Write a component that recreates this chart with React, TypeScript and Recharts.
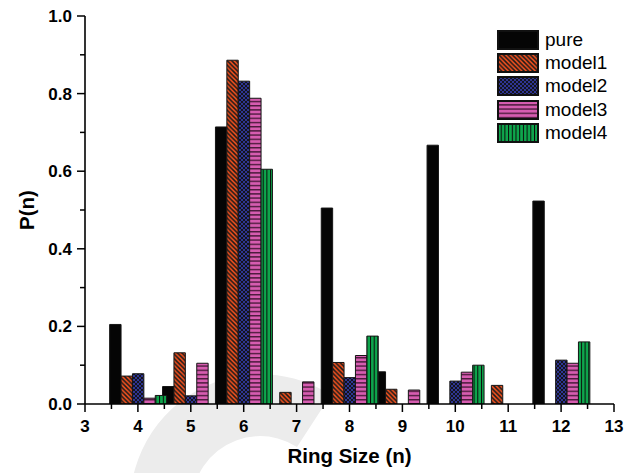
import React from 'react';
import { BarChart, Bar, XAxis, YAxis, Legend, Label } from 'recharts';

// ---------- data ----------
const ringSizes = [4, 5, 6, 7, 8, 9, 10, 11, 12];
const pureValues = [0.205, 0.045, 0.714, 0, 0.505, 0.083, 0.667, 0, 0.523];
const model1Values = [0.072, 0.132, 0.886, 0.03, 0.107, 0.038, 0, 0.048, 0];
const model2Values = [0.078, 0.021, 0.832, 0, 0.068, 0, 0.059, 0, 0.113];
const model3Values = [0.015, 0.105, 0.788, 0.057, 0.125, 0.036, 0.082, 0, 0.105];
const model4Values = [0.022, 0, 0.605, 0, 0.175, 0, 0.1, 0, 0.16];

const seriesNames = ['pure', 'model1', 'model2', 'model3', 'model4'];
const xTickValues = [3, 3.5, 4, 4.5, 5, 5.5, 6, 6.5, 7, 7.5, 8, 8.5, 9, 9.5, 10, 10.5, 11, 11.5, 12, 12.5, 13];
const yTickValues = [0, 0.1, 0.2, 0.3, 0.4, 0.5, 0.6, 0.7, 0.8, 0.9, 1.0];
const rightTickValues = [0.1, 0.2, 0.3, 0.4, 0.5, 0.6, 0.7, 0.8, 0.9];
const xDomain = [3, 13];
const yDomain = [0, 1];

const data = ringSizes.map((n, i) => ({
  n,
  pure: pureValues[i],
  model1: model1Values[i],
  model2: model2Values[i],
  model3: model3Values[i],
  model4: model4Values[i],
}));

// ---------- layout / style ----------
const W = 634;
const H = 473;
const MARGIN = { top: 16, right: 20, bottom: 0, left: 0 };
const Y_AXIS_W = 85;
const X_AXIS_H = 69;
const PLOT_W = W - MARGIN.left - MARGIN.right - Y_AXIS_W;
const UNIT_PX = PLOT_W / (xDomain[1] - xDomain[0]);
const BAR_W = 11.4;
const FONT = '"Liberation Sans", Arial, Helvetica, sans-serif';

const seriesKeys = ['pure', 'model1', 'model2', 'model3', 'model4'];
const seriesPatterns = ['pPure', 'pM1', 'pM2', 'pM3', 'pM4'];

const isMajorX = (v: number) => Math.abs(v - Math.round(v)) < 1e-6;
const isMajorY = (v: number) => Math.round(v * 10) % 2 === 0;

const BottomTick = (props: any) => {
  const { x, y, payload } = props;
  const v = payload.value;
  const major = isMajorX(v);
  return (
    <g>
      <line x1={x} y1={y} x2={x} y2={y + (major ? 8 : 5)} stroke="#000" strokeWidth={1.5} />
      {major && (
        <text x={x} y={y + 28} textAnchor="middle" fontSize={17} fontWeight="bold" fill="#000" fontFamily={FONT}>
          {String(v)}
        </text>
      )}
    </g>
  );
};

const TopTick = (props: any) => {
  const { x, y, payload } = props;
  const major = isMajorX(payload.value);
  return <line x1={x} y1={y} x2={x} y2={y + (major ? 8 : 5)} stroke="#000" strokeWidth={1.5} />;
};

const LeftTick = (props: any) => {
  const { x, y, payload } = props;
  const v = payload.value;
  const major = isMajorY(v);
  return (
    <g>
      <line x1={x} y1={y} x2={x - (major ? 8 : 5)} y2={y} stroke="#000" strokeWidth={1.5} />
      {major && (
        <text x={x - 13} y={y + 6} textAnchor="end" fontSize={17} fontWeight="bold" fill="#000" fontFamily={FONT}>
          {v.toFixed(1)}
        </text>
      )}
    </g>
  );
};

const RightTick = (props: any) => {
  const { x, y, payload } = props;
  const major = isMajorY(payload.value);
  return <line x1={x} y1={y} x2={x - (major ? 8 : 5)} y2={y} stroke="#000" strokeWidth={1.5} />;
};

const renderLegend = () => (
  <div style={{ fontFamily: FONT, fontSize: 19, color: '#000' }}>
    {seriesNames.map((name, k) => (
      <div key={name} style={{ display: 'flex', alignItems: 'center', height: 23.4 }}>
        <svg width={42} height={20} style={{ display: 'block' }}>
          <rect x={1} y={1} width={40} height={18} fill={`url(#${seriesPatterns[k]})`} stroke="#111" strokeWidth={2} />
        </svg>
        <span style={{ marginLeft: 6, lineHeight: '20px', whiteSpace: 'nowrap' }}>{name}</span>
      </div>
    ))}
  </div>
);

const axisLineStyle = { stroke: '#000', strokeWidth: 1.6 };

export default function App() {
  return (
    <div style={{ position: 'absolute', left: 0, top: 0, width: W, height: H, background: '#fff' }}>
      <svg width={W} height={H} style={{ position: 'absolute', left: 0, top: 0 }}>
        <path
          d="M 330.8 395 A 130 130 0 0 0 138 548.5 L 196 527 A 68 68 0 0 1 297 447 Z"
          fill="#ececec"
        />
      </svg>
      <div style={{ position: 'absolute', left: 0, top: 0 }}>
        <BarChart width={W} height={H} data={data} margin={MARGIN}>
          <defs>
            <pattern id="pPure" patternUnits="userSpaceOnUse" width="4" height="4">
              <rect width="4" height="4" fill="#050505" />
            </pattern>
            <pattern id="pM1" patternUnits="userSpaceOnUse" width="4.5" height="4.5">
              <rect width="4.5" height="4.5" fill="#f4511e" />
              <path d="M-1,-1 L5.5,5.5 M-1,3.5 L1,5.5 M3.5,-1 L5.5,1" stroke="#1a1a1a" strokeWidth="1.5" />
            </pattern>
            <pattern id="pM2" patternUnits="userSpaceOnUse" width="4" height="4">
              <rect width="4" height="4" fill="#2e3592" />
              <path d="M-1,-1 L5,5 M-1,3 L1,5 M3,-1 L5,1 M-1,5 L5,-1 M-1,1 L1,-1 M3,5 L5,3" stroke="#111" strokeWidth="0.9" />
            </pattern>
            <pattern id="pM3" patternUnits="userSpaceOnUse" width="4.2" height="4.2">
              <rect width="4.2" height="4.2" fill="#d65cb0" />
              <rect y="0" width="4.2" height="1.4" fill="#4a1a3a" />
            </pattern>
            <pattern id="pM4" patternUnits="userSpaceOnUse" width="3.7" height="3.7">
              <rect width="3.7" height="3.7" fill="#0ea64c" />
              <rect x="0" width="1" height="3.7" fill="#0a0a0a" />
            </pattern>
          </defs>

          {seriesKeys.map((key, k) => {
            const d = ((k - 2) * BAR_W) / UNIT_PX;
            return (
              <XAxis
                key={`ax-${key}`}
                xAxisId={`s${k}`}
                type="number"
                dataKey="n"
                domain={[xDomain[0] - d, xDomain[1] - d]}
                allowDataOverflow
                hide
              />
            );
          })}

          <XAxis
            xAxisId="bottom"
            type="number"
            dataKey="n"
            domain={xDomain}
            allowDataOverflow
            ticks={xTickValues}
            interval={0}
            tickSize={0}
            tickMargin={0}
            tickLine={false}
            tick={BottomTick}
            axisLine={axisLineStyle}
            height={X_AXIS_H}
          >
            <Label
              value="Ring Size (n)"
              position="insideBottom"
              offset={10}
              fontSize={20.5}
              fontWeight="bold"
              fill="#000"
              fontFamily={FONT}
            />
          </XAxis>
          <XAxis
            xAxisId="top"
            orientation="top"
            type="number"
            dataKey="n"
            domain={xDomain}
            allowDataOverflow
            ticks={xTickValues}
            interval={0}
            tickSize={0}
            tickMargin={0}
            tickLine={false}
            tick={TopTick}
            axisLine={axisLineStyle}
            height={0}
          />
          <YAxis
            yAxisId="left"
            type="number"
            domain={yDomain}
            allowDataOverflow
            ticks={yTickValues}
            interval={0}
            tickSize={0}
            tickMargin={0}
            tickLine={false}
            tick={LeftTick}
            axisLine={axisLineStyle}
            width={Y_AXIS_W}
          >
            <Label
              value="P(n)"
              angle={-90}
              position="insideLeft"
              offset={27}
              textAnchor="middle"
              fontSize={20.5}
              fontWeight="bold"
              fill="#000"
              fontFamily={FONT}
            />
          </YAxis>
          <YAxis
            yAxisId="right"
            orientation="right"
            type="number"
            domain={yDomain}
            allowDataOverflow
            ticks={rightTickValues}
            interval={0}
            tickSize={0}
            tickMargin={0}
            tickLine={false}
            tick={RightTick}
            axisLine={axisLineStyle}
            width={0}
          />

          {seriesKeys.map((key, k) => (
            <Bar
              key={key}
              dataKey={key}
              name={seriesNames[k]}
              xAxisId={`s${k}`}
              yAxisId="left"
              barSize={BAR_W}
              fill={`url(#${seriesPatterns[k]})`}
              stroke="#151515"
              strokeWidth={1}
              isAnimationActive={false}
            />
          ))}

          <Legend
            layout="vertical"
            align="center"
            verticalAlign="middle"
            content={renderLegend}
            wrapperStyle={{ left: 497, top: 28, width: 130 }}
          />
        </BarChart>
      </div>
    </div>
  );
}
